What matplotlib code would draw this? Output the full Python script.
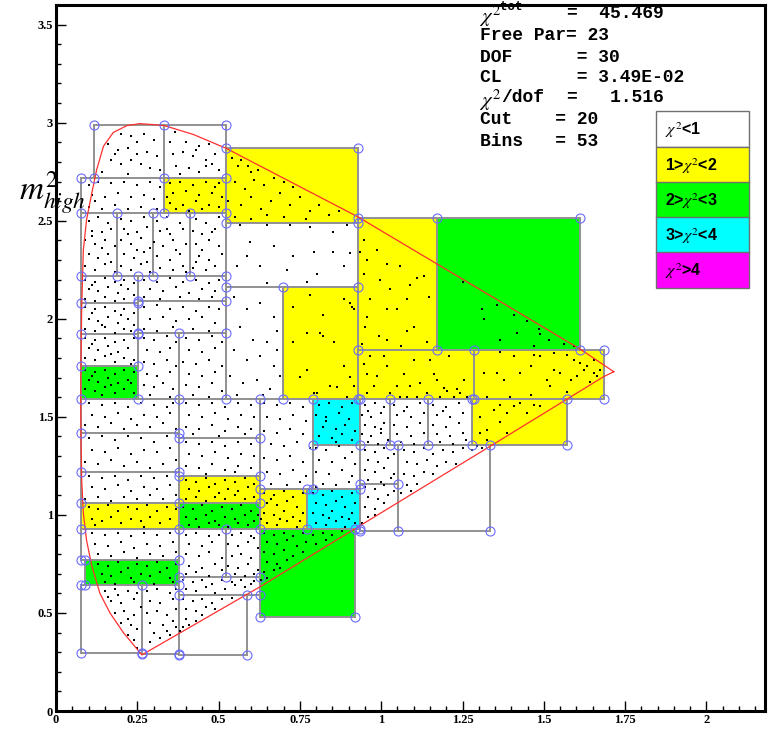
import numpy as np
import matplotlib.pyplot as plt
from matplotlib.patches import Rectangle

plt.rcParams['mathtext.fontset'] = 'stix'

# adaptive bins: x0, x1, y0, y1, chi2 class (0: <1, 1: 1-2, 2: 2-3, 3: 3-4, 4: >4)
bins = [
    (0.118, 0.333, 2.72, 2.99, 0), (0.333, 0.522, 2.72, 2.99, 0),
    (0.077, 0.333, 2.54, 2.72, 0), (0.333, 0.522, 2.54, 2.72, 1),
    (0.522, 0.928, 2.49, 2.87, 1), (0.928, 1.171, 1.84, 2.515, 1),
    (1.171, 1.612, 1.84, 2.515, 2), (0.522, 0.928, 2.16, 2.49, 0),
    (0.522, 0.699, 1.59, 2.16, 0), (0.699, 0.928, 1.59, 2.16, 1),
    (0.928, 1.284, 1.59, 1.84, 1), (1.284, 1.684, 1.59, 1.84, 1),
    (1.279, 1.571, 1.355, 1.59, 1),
    (0.077, 0.189, 2.22, 2.54, 0), (0.189, 0.298, 2.22, 2.54, 0),
    (0.298, 0.412, 2.22, 2.54, 0), (0.412, 0.522, 2.22, 2.54, 0),
    (0.077, 0.253, 2.08, 2.22, 0), (0.253, 0.522, 2.09, 2.22, 0),
    (0.077, 0.253, 1.92, 2.08, 0), (0.253, 0.522, 1.93, 2.09, 0),
    (0.077, 0.253, 1.76, 1.92, 0), (0.077, 0.253, 1.59, 1.76, 2),
    (0.253, 0.379, 1.59, 1.93, 0), (0.379, 0.522, 1.59, 1.93, 0),
    (0.077, 0.379, 1.42, 1.59, 0), (0.077, 0.379, 1.22, 1.42, 0),
    (0.077, 0.379, 1.06, 1.22, 0), (0.077, 0.379, 0.93, 1.06, 1),
    (0.077, 0.379, 0.77, 0.93, 0), (0.089, 0.379, 0.64, 0.77, 2),
    (0.077, 0.264, 0.295, 0.64, 0), (0.264, 0.379, 0.29, 0.64, 0),
    (0.379, 0.628, 1.39, 1.59, 0), (0.379, 0.628, 1.20, 1.39, 0),
    (0.379, 0.628, 1.06, 1.20, 1), (0.379, 0.628, 0.93, 1.06, 2),
    (0.379, 0.522, 0.685, 0.93, 0), (0.522, 0.628, 0.685, 0.93, 0),
    (0.379, 0.628, 0.59, 0.685, 0), (0.379, 0.587, 0.285, 0.59, 0),
    (0.628, 0.789, 1.13, 1.59, 0), (0.789, 0.935, 1.355, 1.59, 3),
    (0.789, 0.935, 1.13, 1.355, 0), (0.628, 0.773, 0.93, 1.13, 1),
    (0.773, 0.935, 0.93, 1.13, 3), (0.628, 0.92, 0.48, 0.93, 2),
    (0.935, 1.027, 1.355, 1.59, 0), (1.027, 1.145, 1.355, 1.59, 0),
    (1.145, 1.279, 1.355, 1.59, 0), (0.935, 1.053, 1.16, 1.355, 0),
    (0.935, 1.053, 0.92, 1.16, 0), (1.053, 1.335, 0.92, 1.355, 0),
]
class_colors = ['white', '#ffff00', '#00ff00', '#00ffff', '#ff00ff']
class_labels = [r'$\chi^2$<1', r'1>$\chi^2$<2', r'2>$\chi^2$<3',
                r'3>$\chi^2$<4', r'$\chi^2$>4']

# kinematic boundary
boundary_x = [1.715, 1.612, 1.171, 0.928, 0.522, 0.422, 0.333, 0.300, 0.258,
              0.218, 0.176, 0.146, 0.125, 0.110, 0.094, 0.084, 0.079, 0.077,
              0.076, 0.077, 0.079, 0.084, 0.094, 0.110, 0.135, 0.166, 0.207,
              0.264, 0.628, 0.920, 1.335, 1.684, 1.715]
boundary_y = [1.73, 1.845, 2.28, 2.52, 2.87, 2.94, 2.985, 2.99, 2.995,
              2.985, 2.95, 2.88, 2.76, 2.64, 2.505, 2.35, 2.06, 1.80,
              1.59, 1.38, 1.18, 1.01, 0.87, 0.74, 0.60, 0.50, 0.40,
              0.286, 0.634, 0.93, 1.35, 1.705, 1.73]

events = [
    (0.20,2.94),(0.23,2.93),(0.27,2.94),(0.30,2.91),(0.16,2.89),(0.19,2.86),(0.22,2.87),(0.25,2.84),
    (0.28,2.85),(0.31,2.83),(0.17,2.81),(0.20,2.79),(0.23,2.81),(0.26,2.79),(0.29,2.77),(0.32,2.76),
    (0.14,2.75),(0.22,2.74),(0.18,2.84),(0.25,2.90),
    (0.366,2.95),(0.40,2.90),(0.44,2.88),(0.47,2.89),(0.36,2.84),(0.39,2.85),(0.42,2.83),(0.46,2.81),
    (0.48,2.79),(0.37,2.78),(0.41,2.77),(0.44,2.75),(0.49,2.84),(0.35,2.90),(0.50,2.76),(0.38,2.74),
    (0.46,2.78),(0.43,2.86),
    (0.10,2.68),(0.13,2.70),(0.17,2.69),(0.21,2.70),(0.25,2.68),(0.29,2.70),(0.32,2.67),(0.11,2.63),
    (0.15,2.62),(0.19,2.64),(0.23,2.62),(0.27,2.63),(0.30,2.61),(0.10,2.57),(0.14,2.56),(0.18,2.58),
    (0.22,2.56),(0.26,2.57),(0.31,2.56),(0.12,2.60),
    (0.35,2.69),(0.38,2.70),(0.42,2.68),(0.46,2.70),(0.50,2.69),(0.36,2.64),(0.40,2.65),(0.44,2.63),
    (0.48,2.64),(0.51,2.62),(0.35,2.59),(0.39,2.58),(0.43,2.60),(0.47,2.58),(0.50,2.57),(0.37,2.56),
    (0.41,2.55),(0.45,2.56),(0.34,2.62),(0.49,2.67),
    (0.54,2.82),(0.56,2.78),(0.57,2.81),(0.60,2.75),(0.62,2.76),(0.55,2.70),(0.58,2.66),(0.61,2.71),
    (0.64,2.68),(0.67,2.72),(0.70,2.70),(0.53,2.60),(0.57,2.58),(0.60,2.62),(0.63,2.56),(0.66,2.60),
    (0.69,2.64),(0.72,2.58),(0.75,2.62),(0.78,2.55),(0.81,2.58),(0.84,2.53),(0.87,2.55),(0.55,2.52),
    (0.60,2.51),(0.70,2.52),(0.77,2.51),(0.65,2.53),(0.73,2.67),(0.59,2.78),
    (0.946,2.40),(0.987,2.35),(0.956,2.30),(1.018,2.28),(1.059,2.27),(0.997,2.20),(0.946,2.23),
    (1.028,2.15),(1.089,2.17),(1.11,2.21),(0.966,2.10),(1.018,2.05),(1.048,2.05),(0.956,2.01),
    (0.992,1.91),(1.018,1.89),(1.079,1.94),(1.10,1.96),(1.13,2.22),(1.146,2.11),(0.951,1.96),
    (1.079,2.10),(0.936,2.34),(0.94,1.87),(1.14,1.88),(1.06,1.86),
    (1.25,2.19),(1.31,2.05),(1.356,2.07),(1.407,2.02),(1.448,1.99),(1.484,1.95),(1.489,1.92),
    (1.315,2.00),(1.515,1.89),(1.561,1.87),(1.592,1.86),(1.469,1.86),(1.366,1.89),(1.418,1.93),
    (0.566,2.48),(0.648,2.48),(0.72,2.48),(0.781,2.47),(0.853,2.445),(0.894,2.48),(0.597,2.39),
    (0.669,2.37),(0.73,2.32),(0.587,2.32),(0.792,2.34),(0.853,2.34),(0.905,2.335),(0.556,2.27),
    (0.628,2.27),(0.71,2.25),(0.771,2.19),(0.802,2.23),(0.884,2.27),(0.648,2.18),
    (0.546,2.11),(0.587,2.05),(0.628,2.08),(0.669,2.01),(0.566,1.96),(0.607,1.89),(0.648,1.88),
    (0.679,1.94),(0.546,1.84),(0.587,1.79),(0.628,1.81),(0.669,1.76),(0.535,1.71),(0.576,1.67),
    (0.617,1.69),(0.658,1.64),(0.689,1.71),(0.556,1.61),(0.638,1.61),(0.679,1.84),
    (0.884,2.10),(0.905,2.08),(0.915,2.05),(0.771,1.93),(0.854,1.88),(0.813,1.93),(0.884,1.76),
    (0.771,1.74),(0.915,1.655),(0.843,1.655),(0.895,1.60),(0.792,1.62),(0.91,2.06),(0.73,1.88),
    (0.822,1.91),(0.751,1.705),(0.864,1.654),(0.905,1.705),(0.802,1.62),(0.73,2.06),(0.78,2.12),
    (0.82,2.02),
    (0.946,1.77),(0.966,1.81),(0.987,1.71),(1.018,1.76),(1.048,1.655),(1.069,1.72),(1.10,1.79),
    (1.089,1.655),(1.12,1.67),(1.141,1.62),(1.161,1.72),(1.172,1.69),(1.192,1.646),(1.202,1.63),
    (1.233,1.64),(1.254,1.69),(1.243,1.62),(1.264,1.60),(0.956,1.62),(0.977,1.655),(1.028,1.62),
    (1.059,1.60),(1.11,1.60),(1.182,1.60),(1.007,1.81),(1.151,1.79),(1.207,1.81),(0.956,1.72),
    (1.079,1.60),(1.223,1.60),
    (1.366,1.83),(1.407,1.81),(1.469,1.816),(1.489,1.81),(1.53,1.825),(1.571,1.816),(1.592,1.79),
    (1.612,1.774),(1.633,1.757),(1.654,1.723),(1.664,1.706),(1.674,1.74),(1.459,1.757),(1.51,1.689),
    (1.551,1.723),(1.582,1.689),(1.602,1.706),(1.623,1.74),(1.643,1.68),(1.356,1.723),(1.377,1.689),
    (1.325,1.60),(1.397,1.60),(1.459,1.612),(1.52,1.655),(1.571,1.629),(1.53,1.74),(1.428,1.723),
    (1.315,1.723),(1.654,1.79),
    (1.305,1.50),(1.325,1.434),(1.346,1.536),(1.366,1.561),(1.387,1.519),(1.407,1.553),(1.428,1.57),
    (1.469,1.561),(1.448,1.519),(1.387,1.417),(1.325,1.383),(1.305,1.417),(1.366,1.476),(1.295,1.349),
    (1.489,1.553),
    (0.10,2.50),(0.13,2.52),(0.16,2.49),(0.11,2.45),(0.14,2.44),(0.17,2.46),(0.09,2.40),(0.12,2.38),
    (0.15,2.40),(0.18,2.37),(0.10,2.33),(0.13,2.31),(0.16,2.33),(0.09,2.27),(0.12,2.25),(0.15,2.28),
    (0.18,2.24),(0.11,2.42),(0.14,2.36),(0.17,2.29),
    (0.20,2.51),(0.23,2.50),(0.27,2.52),(0.21,2.46),(0.25,2.44),(0.28,2.47),(0.20,2.40),(0.23,2.38),
    (0.26,2.41),(0.29,2.36),(0.21,2.33),(0.24,2.31),(0.27,2.34),(0.20,2.27),(0.23,2.25),(0.26,2.28),
    (0.29,2.24),(0.22,2.43),(0.25,2.35),(0.28,2.29),
    (0.31,2.50),(0.34,2.52),(0.38,2.49),(0.32,2.45),(0.35,2.43),(0.39,2.46),(0.30,2.39),(0.33,2.37),
    (0.36,2.40),(0.40,2.38),(0.31,2.32),(0.35,2.30),(0.38,2.33),(0.32,2.26),(0.36,2.25),(0.39,2.27),
    (0.34,2.46),(0.37,2.35),(0.40,2.24),
    (0.43,2.51),(0.46,2.49),(0.50,2.52),(0.42,2.45),(0.45,2.43),(0.49,2.46),(0.43,2.38),(0.47,2.40),
    (0.50,2.37),(0.44,2.32),(0.47,2.30),(0.51,2.33),(0.42,2.26),(0.46,2.25),(0.49,2.27),(0.45,2.35),
    (0.48,2.44),(0.43,2.29),
    (0.09,2.20),(0.12,2.19),(0.15,2.21),(0.18,2.19),(0.21,2.20),(0.24,2.18),(0.10,2.15),(0.13,2.14),
    (0.16,2.16),(0.19,2.13),(0.22,2.15),(0.09,2.10),(0.12,2.09),(0.15,2.11),(0.18,2.09),(0.21,2.10),
    (0.24,2.12),(0.11,2.17),(0.20,2.17),
    (0.27,2.20),(0.31,2.19),(0.35,2.21),(0.39,2.19),(0.43,2.20),(0.47,2.18),(0.50,2.20),(0.29,2.15),
    (0.33,2.14),(0.37,2.16),(0.41,2.13),(0.45,2.15),(0.49,2.14),(0.27,2.11),(0.32,2.10),(0.38,2.11),
    (0.44,2.10),(0.48,2.11),
    (0.09,2.06),(0.12,2.05),(0.15,2.06),(0.18,2.04),(0.21,2.05),(0.24,2.03),(0.10,2.00),(0.13,1.99),
    (0.16,2.01),(0.19,1.98),(0.22,2.00),(0.09,1.95),(0.12,1.94),(0.15,1.96),(0.18,1.93),(0.21,1.95),
    (0.24,1.97),(0.11,2.03),(0.14,1.97),(0.20,2.02),(0.23,1.94),
    (0.27,2.06),(0.31,2.07),(0.35,2.05),(0.39,2.06),(0.43,2.04),(0.47,2.06),(0.50,2.05),(0.29,2.00),
    (0.33,2.01),(0.37,1.99),(0.41,2.00),(0.45,2.01),(0.49,1.98),(0.27,1.95),(0.31,1.94),(0.36,1.96),
    (0.42,1.95),(0.47,1.94),
    (0.09,1.90),(0.12,1.89),(0.15,1.90),(0.18,1.88),(0.21,1.89),(0.24,1.90),(0.10,1.85),(0.13,1.84),
    (0.16,1.86),(0.19,1.83),(0.22,1.85),(0.09,1.80),(0.12,1.79),(0.15,1.81),(0.18,1.78),(0.21,1.80),
    (0.24,1.79),(0.11,1.87),(0.17,1.82),(0.23,1.77),
    (0.09,1.74),(0.12,1.73),(0.15,1.74),(0.18,1.72),(0.21,1.74),(0.24,1.73),(0.10,1.69),(0.13,1.68),
    (0.16,1.70),(0.19,1.67),(0.22,1.69),(0.09,1.64),(0.12,1.63),(0.15,1.65),(0.18,1.62),(0.21,1.64),
    (0.24,1.62),(0.11,1.71),(0.17,1.66),(0.23,1.67),(0.14,1.61),
    (0.27,1.90),(0.30,1.89),(0.34,1.91),(0.37,1.88),(0.28,1.84),(0.32,1.83),(0.35,1.85),(0.27,1.78),
    (0.30,1.77),(0.34,1.79),(0.37,1.76),(0.28,1.72),(0.31,1.71),(0.35,1.73),(0.27,1.66),(0.30,1.65),
    (0.33,1.67),(0.36,1.64),(0.29,1.61),(0.35,1.60),
    (0.40,1.90),(0.44,1.89),(0.48,1.91),(0.51,1.88),(0.41,1.84),(0.45,1.83),(0.49,1.85),(0.39,1.78),
    (0.43,1.77),(0.47,1.79),(0.51,1.76),(0.41,1.72),(0.45,1.71),(0.49,1.73),(0.40,1.66),(0.44,1.65),
    (0.48,1.67),(0.51,1.63),(0.42,1.61),(0.47,1.60),
    (0.10,1.57),(0.14,1.56),(0.18,1.57),(0.22,1.55),(0.26,1.57),(0.30,1.56),(0.34,1.55),(0.36,1.57),
    (0.11,1.51),(0.15,1.50),(0.19,1.52),(0.23,1.49),(0.27,1.51),(0.31,1.50),(0.35,1.52),(0.09,1.46),
    (0.13,1.45),(0.17,1.47),(0.21,1.44),(0.25,1.46),(0.29,1.45),(0.33,1.47),(0.37,1.44),
    (0.10,1.39),(0.14,1.40),(0.18,1.38),(0.22,1.40),(0.26,1.39),(0.30,1.37),(0.34,1.40),(0.11,1.33),
    (0.15,1.32),(0.19,1.34),(0.23,1.31),(0.27,1.33),(0.31,1.32),(0.35,1.34),(0.09,1.27),(0.13,1.26),
    (0.17,1.28),(0.21,1.25),(0.25,1.27),(0.29,1.24),(0.33,1.26),(0.37,1.28),
    (0.10,1.20),(0.14,1.19),(0.18,1.20),(0.22,1.18),(0.26,1.20),(0.30,1.19),(0.34,1.20),(0.11,1.14),
    (0.15,1.13),(0.19,1.15),(0.23,1.12),(0.27,1.14),(0.31,1.13),(0.35,1.15),(0.09,1.08),(0.13,1.09),
    (0.17,1.07),(0.21,1.09),(0.25,1.08),(0.29,1.10),(0.33,1.08),(0.37,1.10),
    (0.10,1.04),(0.13,1.03),(0.16,1.05),(0.19,1.02),(0.22,1.04),(0.25,1.03),(0.28,1.05),(0.31,1.02),
    (0.34,1.04),(0.37,1.03),(0.11,0.98),(0.14,0.97),(0.17,0.99),(0.20,0.96),(0.23,0.98),(0.26,0.97),
    (0.29,0.99),(0.32,0.96),(0.35,0.98),(0.12,0.95),(0.27,0.94),
    (0.11,0.91),(0.15,0.90),(0.19,0.91),(0.23,0.89),(0.27,0.91),(0.31,0.90),(0.35,0.91),(0.12,0.85),
    (0.16,0.84),(0.20,0.86),(0.24,0.83),(0.28,0.85),(0.32,0.84),(0.36,0.86),(0.13,0.80),(0.17,0.79),
    (0.21,0.81),(0.25,0.78),(0.29,0.80),(0.33,0.79),(0.37,0.81),
    (0.13,0.75),(0.16,0.74),(0.19,0.76),(0.22,0.73),(0.25,0.75),(0.28,0.74),(0.31,0.76),(0.34,0.73),
    (0.37,0.75),(0.14,0.70),(0.17,0.69),(0.20,0.71),(0.23,0.68),(0.26,0.70),(0.29,0.69),(0.32,0.71),
    (0.35,0.68),(0.15,0.66),(0.18,0.65),(0.24,0.66),(0.30,0.65),(0.36,0.66),
    (0.15,0.61),(0.18,0.62),(0.22,0.61),(0.25,0.60),(0.17,0.56),(0.20,0.55),(0.24,0.57),(0.18,0.50),
    (0.21,0.51),(0.24,0.49),(0.20,0.45),(0.23,0.44),(0.25,0.42),(0.22,0.39),(0.24,0.36),(0.16,0.58),
    (0.19,0.59),(0.26,0.53),(0.22,0.47),(0.25,0.32),
    (0.28,0.61),(0.31,0.62),(0.35,0.60),(0.37,0.62),(0.29,0.56),(0.32,0.55),(0.36,0.57),(0.28,0.50),
    (0.31,0.51),(0.34,0.49),(0.37,0.52),(0.29,0.45),(0.33,0.44),(0.36,0.46),(0.30,0.40),(0.34,0.41),
    (0.37,0.43),(0.29,0.35),(0.32,0.37),(0.35,0.39),
    (0.40,1.57),(0.44,1.56),(0.48,1.57),(0.52,1.55),(0.56,1.57),(0.60,1.56),(0.41,1.51),(0.45,1.50),
    (0.49,1.52),(0.53,1.49),(0.57,1.51),(0.61,1.50),(0.40,1.45),(0.44,1.44),(0.48,1.46),(0.52,1.43),
    (0.56,1.45),(0.60,1.44),(0.42,1.41),(0.50,1.40),(0.58,1.41),
    (0.40,1.37),(0.44,1.36),(0.48,1.37),(0.52,1.35),(0.56,1.37),(0.60,1.36),(0.41,1.31),(0.45,1.30),
    (0.49,1.32),(0.53,1.29),(0.57,1.31),(0.61,1.30),(0.40,1.25),(0.44,1.24),(0.48,1.26),(0.52,1.23),
    (0.56,1.25),(0.60,1.24),(0.46,1.21),(0.55,1.22),
    (0.40,1.18),(0.43,1.17),(0.46,1.19),(0.49,1.16),(0.52,1.18),(0.55,1.17),(0.58,1.19),(0.61,1.16),
    (0.41,1.13),(0.44,1.12),(0.47,1.14),(0.50,1.11),(0.53,1.13),(0.56,1.12),(0.59,1.14),(0.40,1.08),
    (0.43,1.09),(0.46,1.07),(0.49,1.09),(0.52,1.08),(0.55,1.10),(0.58,1.08),(0.61,1.09),
    (0.39,1.04),(0.42,1.03),(0.45,1.05),(0.48,1.02),(0.51,1.04),(0.54,1.03),(0.57,1.05),(0.60,1.02),
    (0.40,0.99),(0.43,0.98),(0.46,1.00),(0.49,0.97),(0.52,0.99),(0.55,0.98),(0.58,1.00),(0.61,0.97),
    (0.41,0.95),(0.44,0.94),(0.47,0.96),(0.50,0.95),(0.53,0.94),(0.56,0.96),(0.59,0.95),(0.62,1.00),
    (0.40,0.90),(0.43,0.91),(0.47,0.89),(0.50,0.90),(0.41,0.85),(0.45,0.84),(0.48,0.86),(0.40,0.80),
    (0.44,0.79),(0.47,0.81),(0.51,0.78),(0.41,0.74),(0.45,0.73),(0.49,0.75),(0.40,0.70),(0.43,0.71),
    (0.47,0.69),(0.51,0.72),
    (0.54,0.90),(0.57,0.91),(0.60,0.89),(0.53,0.85),(0.56,0.84),(0.59,0.86),(0.62,0.83),(0.54,0.79),
    (0.57,0.80),(0.60,0.78),(0.53,0.74),(0.56,0.73),(0.59,0.75),(0.62,0.72),(0.55,0.70),(0.58,0.69),
    (0.61,0.70),(0.61,0.88),
    (0.39,0.67),(0.42,0.66),(0.45,0.67),(0.48,0.65),(0.51,0.67),(0.54,0.66),(0.57,0.67),(0.60,0.65),
    (0.40,0.62),(0.43,0.61),(0.46,0.63),(0.49,0.60),(0.52,0.62),(0.55,0.64),(0.58,0.63),(0.61,0.665),
    (0.39,0.57),(0.42,0.56),(0.45,0.57),(0.48,0.55),(0.51,0.57),(0.54,0.575),(0.40,0.52),(0.43,0.51),
    (0.46,0.53),(0.49,0.52),(0.40,0.47),(0.43,0.46),(0.45,0.49),(0.39,0.43),(0.41,0.44),(0.38,0.41),
    (0.64,1.57),(0.68,1.56),(0.72,1.57),(0.76,1.55),(0.65,1.50),(0.69,1.49),(0.73,1.51),(0.77,1.48),
    (0.64,1.43),(0.68,1.42),(0.72,1.44),(0.76,1.41),(0.66,1.36),(0.70,1.35),(0.74,1.37),(0.78,1.34),
    (0.64,1.29),(0.68,1.28),(0.72,1.30),(0.76,1.27),(0.65,1.22),(0.69,1.21),(0.73,1.23),(0.77,1.20),
    (0.66,1.16),(0.71,1.15),(0.75,1.17),
    (0.81,1.56),(0.84,1.57),(0.88,1.55),(0.91,1.57),(0.80,1.51),(0.83,1.50),(0.87,1.52),(0.90,1.49),
    (0.82,1.45),(0.86,1.44),(0.89,1.46),(0.92,1.43),(0.81,1.40),(0.85,1.39),(0.88,1.41),(0.91,1.38),
    (0.83,1.48),(0.86,1.37),
    (0.80,1.34),(0.83,1.33),(0.87,1.35),(0.91,1.32),(0.81,1.28),(0.85,1.27),(0.89,1.29),(0.92,1.26),
    (0.80,1.22),(0.84,1.21),(0.88,1.23),(0.91,1.20),(0.82,1.16),(0.86,1.15),(0.90,1.17),(0.80,1.14),
    (0.64,1.11),(0.67,1.10),(0.70,1.12),(0.73,1.09),(0.76,1.11),(0.65,1.06),(0.68,1.05),(0.71,1.07),
    (0.74,1.04),(0.64,1.01),(0.67,1.00),(0.70,1.02),(0.73,0.99),(0.76,1.01),(0.65,0.96),(0.68,0.95),
    (0.71,0.97),(0.74,0.94),(0.63,0.98),(0.66,1.08),(0.75,0.97),(0.69,0.98),
    (0.79,1.11),(0.82,1.10),(0.85,1.12),(0.88,1.09),(0.91,1.11),(0.80,1.06),(0.83,1.05),(0.86,1.07),
    (0.89,1.04),(0.92,1.06),(0.79,1.01),(0.82,1.00),(0.85,1.02),(0.88,0.99),(0.91,1.01),(0.80,0.96),
    (0.83,0.95),(0.86,0.97),(0.89,0.94),(0.92,0.96),(0.84,0.985),(0.90,0.98),
    (0.64,0.91),(0.67,0.90),(0.70,0.91),(0.73,0.89),(0.76,0.91),(0.79,0.90),(0.82,0.91),(0.85,0.90),
    (0.88,0.92),(0.65,0.86),(0.68,0.85),(0.71,0.87),(0.74,0.84),(0.77,0.86),(0.80,0.85),(0.83,0.87),
    (0.64,0.81),(0.67,0.80),(0.70,0.82),(0.73,0.79),(0.76,0.81),(0.65,0.76),(0.68,0.75),(0.71,0.77),
    (0.64,0.71),(0.67,0.72),(0.69,0.73),(0.63,0.67),(0.65,0.68),
    (0.95,1.56),(0.98,1.57),(1.01,1.55),(0.94,1.51),(0.97,1.50),(1.00,1.52),(0.95,1.46),(0.98,1.45),
    (1.01,1.47),(0.94,1.41),(0.97,1.40),(1.00,1.42),(0.96,1.37),(0.99,1.36),(1.02,1.38),(0.96,1.53),
    (1.00,1.44),
    (1.04,1.56),(1.08,1.55),(1.12,1.57),(1.05,1.51),(1.09,1.50),(1.13,1.52),(1.04,1.46),(1.08,1.45),
    (1.12,1.47),(1.05,1.41),(1.09,1.40),(1.13,1.42),(1.06,1.37),(1.10,1.36),(1.07,1.53),
    (1.16,1.56),(1.20,1.55),(1.24,1.57),(1.17,1.51),(1.21,1.50),(1.25,1.52),(1.16,1.46),(1.20,1.45),
    (1.24,1.47),(1.17,1.41),(1.21,1.40),(1.25,1.42),(1.18,1.37),(1.22,1.36),(1.26,1.38),(1.19,1.53),
    (0.95,1.33),(0.98,1.32),(1.01,1.34),(1.04,1.31),(0.96,1.28),(0.99,1.27),(1.02,1.29),(0.95,1.23),
    (0.98,1.22),(1.01,1.24),(1.04,1.21),(0.96,1.18),(1.00,1.17),(1.03,1.19),
    (0.95,1.14),(0.98,1.13),(1.01,1.15),(1.04,1.12),(0.96,1.09),(0.99,1.08),(1.02,1.10),(0.95,1.04),
    (0.98,1.03),(1.01,1.06),(0.96,0.99),(0.98,1.00),(0.94,0.96),
    (1.07,1.33),(1.10,1.32),(1.13,1.34),(1.16,1.31),(1.19,1.33),(1.22,1.32),(1.25,1.34),(1.28,1.33),
    (1.31,1.34),(1.08,1.27),(1.11,1.26),(1.14,1.28),(1.17,1.25),(1.20,1.27),(1.23,1.26),(1.07,1.21),
    (1.10,1.20),(1.13,1.22),(1.16,1.21),(1.08,1.15),(1.11,1.16),(1.06,1.11),(1.09,1.12),
]

# fit statistics: (text, starting column in the monospaced box)
stats_lines = [('=  45.469', 8), ('Free Par= 23', 0), ('DOF      = 30', 0),
               ('CL       = 3.49E-02', 0), ('=   1.516', 8), ('Cut    = 20', 0),
               ('Bins   = 53', 0)]

x_ticks = [0, 0.25, 0.5, 0.75, 1, 1.25, 1.5, 1.75, 2]
x_tick_labels = ['0', '0.25', '0.5', '0.75', '1', '1.25', '1.5', '1.75', '2']
y_ticks = [0, 0.5, 1, 1.5, 2, 2.5, 3, 3.5]
y_tick_labels = ['0', '0.5', '1', '1.5', '2', '2.5', '3', '3.5']

W, H = 776, 733
fig = plt.figure(figsize=(W / 100, H / 100), dpi=100)
ax = fig.add_axes([56 / W, 1 - 711 / H, 709 / W, 706 / H])
ax.set_xlim(0, 2.18)
ax.set_ylim(0, 3.6)

for x0, x1, y0, y1, c in bins:
    ax.add_patch(Rectangle((x0, y0), x1 - x0, y1 - y0, facecolor=class_colors[c],
                           edgecolor='#929292', lw=1.4, zorder=1))

ev = np.array(events)
ax.plot(ev[:, 0], ev[:, 1], 's', color='black', ms=2.1, mew=0, zorder=2)

ax.plot(boundary_x, boundary_y, color='#ff3030', lw=0.9, zorder=3)

corners = set()
for x0, x1, y0, y1, c in bins:
    corners.update([(x0, y0), (x1, y0), (x0, y1), (x1, y1)])
corners = np.array(sorted(corners))
ax.plot(corners[:, 0], corners[:, 1], 'o', mfc='none', mec='#6a6aff', ms=6.5, mew=0.8, zorder=4)

ax.set_xticks(x_ticks)
ax.set_xticklabels(x_tick_labels)
ax.set_yticks(y_ticks)
ax.set_yticklabels(y_tick_labels)
ax.set_xticks(np.arange(0, 2.18, 0.05), minor=True)
ax.set_yticks(np.arange(0, 3.6, 0.1), minor=True)
ax.tick_params(which='both', direction='in', top=False, right=False, width=1)
ax.tick_params(which='major', length=7, pad=2)
ax.tick_params(which='minor', length=3.5)
for lab in ax.get_xticklabels() + ax.get_yticklabels():
    lab.set_family('Liberation Serif')
    lab.set_weight('bold')
    lab.set_size(9)
for s in ax.spines.values():
    s.set_linewidth(2.2)

# fit statistics box text
char_w = 10.83
mono = dict(family='Liberation Mono', weight='bold', size=13, va='center', ha='left')
line_y = [14, 35, 57, 78, 98, 120, 141]
for yy, (txt, col) in zip(line_y, stats_lines):
    fig.text((480 + col * char_w) / W, 1 - yy / H, txt, **mono)
fig.text(479 / W, 1 - 16 / H, r'$\chi^{2}$', size=15, va='center', ha='left')
fig.text(500 / W, 1 - 7 / H, 'tot', family='Liberation Mono', weight='bold', size=9,
         va='center', ha='left')
fig.text(479 / W, 1 - 100 / H, r'$\chi^{2}$', size=15, va='center', ha='left')
fig.text((480 + 2 * char_w) / W, 1 - 98 / H, '/dof', **mono)

# colour legend
box_x, box_w = 656, 93
row_top = [111, 147, 182, 217, 252]
row_h = 35.5
for yt, col, lab in zip(row_top, class_colors, class_labels):
    fig.patches.append(Rectangle((box_x / W, 1 - (yt + row_h) / H), box_w / W, row_h / H,
                                 transform=fig.transFigure, facecolor=col,
                                 edgecolor='#707070', lw=1))
    fig.text((box_x + 9) / W, 1 - (yt + row_h / 2 + 1) / H, lab, family='Liberation Sans',
             weight='bold', size=11.5, va='center', ha='left')

fig.text(19 / W, 1 - 199 / H, r'$m^{2}_{high}$', size=24, va='baseline', ha='left')

fig.savefig('out.png', dpi=100)
